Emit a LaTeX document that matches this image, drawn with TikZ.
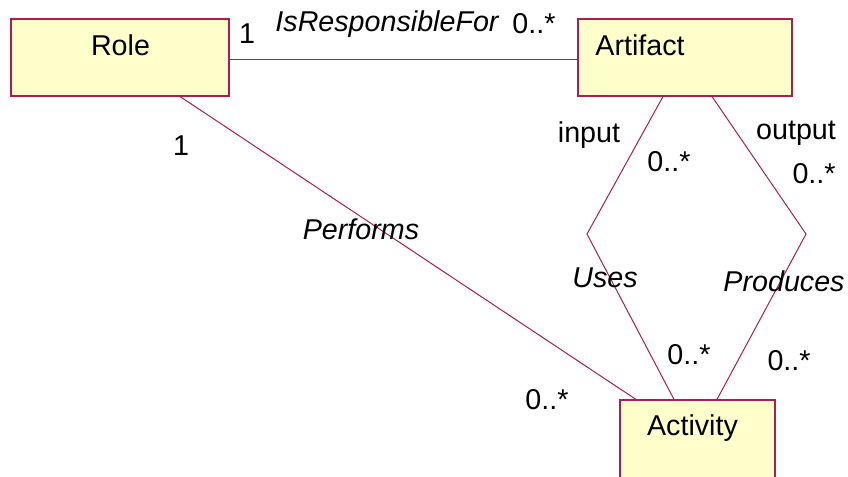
\documentclass[tikz,border=0pt]{standalone}
\usepackage{fontspec}
\setmainfont{Liberation Sans}
\definecolor{clsfill}{RGB}{255,255,204}
\definecolor{clsline}{RGB}{170,30,80}
\begin{document}
\begin{tikzpicture}[x=0.75pt,y=-0.75pt,
  cls/.style={draw=clsline,fill=clsfill,line width=0.8pt,inner sep=0pt,
              minimum width={#1*0.75pt},minimum height={77*0.75pt}},
  assoc/.style={draw=clsline,line width=0.75pt},
  txt/.style={font=\fontsize{21.5}{26}\selectfont,inner sep=0pt},
  role/.style={txt,font=\fontsize{21.5}{26}\selectfont\itshape}]
\useasboundingbox (0,0) rectangle (848,476);
\clip (0,0) rectangle (848,476);

% classes (Activity runs past the lower edge)
\node[cls=218] (role) at (120,57.5) {};
\node[txt] (roletxt) at (120.5,45) {Role};
\node[cls=214] (art) at (685,57.5) {};
\node[txt] (arttxt) at (640,45) {Artifact};
\node[cls=155,minimum height={100*0.75pt}] (act) at (697.5,450) {};
\node[txt] (acttxt) at (692.5,428) {Activity};

% bend points of the two associations
\coordinate (usesbend) at (587,234);
\coordinate (prodbend) at (806,234);

% associations
\draw[assoc] (role.east |- 0,59) -- (art.west |- 0,59);
\draw[assoc] ([xshift=45pt]role.south) -- ([xshift=-46.1pt]act.north);
\draw[assoc] ([xshift=-16.5pt]art.south) -- (usesbend) -- ([xshift=-17.6pt]act.north);
\draw[assoc] ([xshift=20.25pt]art.south) -- (prodbend) -- ([xshift=14.6pt]act.north);

% association names and multiplicities
\node[txt] (m1) at (247,34) {1};
\node[role] (resp) at (387,24) {IsResponsibleFor};
\node[txt] (m2) at (534,24) {0..*};
\node[txt] (m3) at (181,146) {1};
\node[role] (perf) at (361,229) {Performs};
\node[txt] (m4) at (547,400) {0..*};
\node[txt] (inp) at (589,135) {input};
\node[txt] (m5) at (669,162) {0..*};
\node[txt] (outp) at (796,133) {output};
\node[txt] (m6) at (814,174) {0..*};
\node[role] (uses) at (605,278) {Uses};
\node[role] (prod) at (784,281) {Produces};
\node[txt] (m7) at (689,355) {0..*};
\node[txt] (m8) at (789,361) {0..*};
\end{tikzpicture}
\end{document}
